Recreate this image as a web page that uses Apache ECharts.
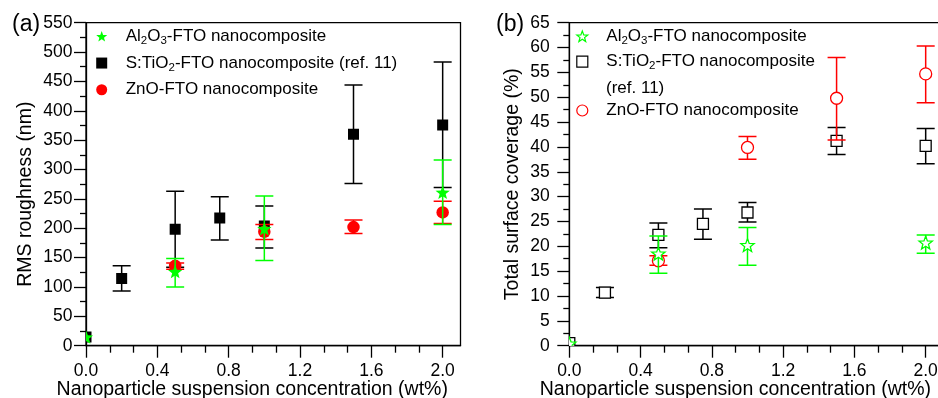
<!DOCTYPE html>
<html>
<head>
<meta charset="utf-8">
<script src="https://cdn.jsdelivr.net/npm/echarts@6/dist/echarts.min.js"></script>
<style>
  html, body { margin: 0; padding: 0; background: #fff; }
  #chart { width: 938px; height: 398px; }
</style>
</head>
<body>
<div id="chart"></div>
<script>
// Nanoparticle suspension concentration (wt%) for each material
const concAl = [0, 0.5, 1.0, 2.0];
const concTi = [0, 0.2, 0.5, 0.75, 1.0, 1.5, 2.0];
const concZn = [0.5, 1.0, 1.5, 2.0];

// (a) RMS roughness (nm): mean with lower / upper error-bar ends
const rmsAl = [13.5, 125, 198, 260];
const rmsAlLow = [13.5, 100, 145, 206.5];
const rmsAlHigh = [13.5, 148.5, 255, 316];
const rmsTi = [15, 114.5, 198.5, 217.5, 204, 360, 376];
const rmsTiLow = [15, 93, 133.5, 180, 166.5, 276, 269.5];
const rmsTiHigh = [15, 136, 263, 253.5, 238, 444, 483];
const rmsZn = [136, 194, 202, 227];
const rmsZnLow = [130, 181, 191, 208];
const rmsZnHigh = [141, 206.5, 214, 246];

// (b) Total surface coverage (%): mean with lower / upper error-bar ends
const covAl = [0.3, 18.4, 20.1, 20.6];
const covAlLow = [0.3, 14.6, 16.2, 18.6];
const covAlHigh = [0.3, 22.1, 23.8, 22.3];
const covTi = [0.5, 10.7, 22.3, 24.5, 26.8, 41.2, 40.2];
const covTiLow = [0.5, 9.7, 19.7, 21.4, 24.9, 38.5, 36.6];
const covTiHigh = [0.5, 11.7, 24.7, 27.5, 28.8, 43.9, 43.7];
const covZn = [17.1, 39.9, 49.8, 54.7];
const covZnLow = [16.2, 37.5, 41.4, 48.9];
const covZnHigh = [18.1, 42.1, 58.0, 60.3];

// Axis ticks
const xTicks = [0, 0.4, 0.8, 1.2, 1.6, 2.0];
const xMinorPerMajor = 3;

const FONT = "'Liberation Sans', Arial, Helvetica, sans-serif";
const GREEN = '#00ff00';
const RED = '#ff0000';
const BLACK = '#000000';

// minor x ticks: two between each labelled tick
const xMinorTicks = [];
for (let i = 0; i < xTicks.length - 1; i++) {
  for (let k = 1; k < xMinorPerMajor; k++) {
    xMinorTicks.push(xTicks[i] + (xTicks[i + 1] - xTicks[i]) * k / xMinorPerMajor);
  }
}

function starPoints(cx, cy, r, ratio) {
  const pts = [];
  for (let i = 0; i < 10; i++) {
    const rr = i % 2 ? r * ratio : r;
    const a = -Math.PI / 2 + i * Math.PI / 5;
    pts.push([cx + rr * Math.cos(a), cy + rr * Math.sin(a)]);
  }
  return pts;
}
const STAR_ICON = 'path://M' + starPoints(10, 10, 10, 0.42)
  .map(p => p[0].toFixed(3) + ',' + p[1].toFixed(3)).join('L') + 'Z';

function markerShape(kind, c, size, color, hollow) {
  const style = hollow ? { fill: '#fff', stroke: color, lineWidth: 1.3 } : { fill: color };
  if (kind === 'circle') {
    return { type: 'circle', shape: { cx: c[0], cy: c[1], r: size / 2 }, style };
  }
  if (kind === 'square') {
    return { type: 'rect', shape: { x: c[0] - size / 2, y: c[1] - size / 2, width: size, height: size }, style };
  }
  return { type: 'polygon', shape: { points: starPoints(c[0], c[1], size / 2, 0.42) }, style };
}

// One custom series per material: error bar with caps, then the marker on top
function errSeries(name, axisIdx, xs, mean, lo, hi, kind, size, color, hollow) {
  return {
    type: 'custom',
    name: name,
    xAxisIndex: axisIdx.x,
    yAxisIndex: axisIdx.y,
    clip: true,
    itemStyle: { color: color },
    dimensions: ['x', 'y', 'lo', 'hi'],
    encode: { x: 0, y: 1 },
    data: xs.map((x, i) => [x, mean[i], lo[i], hi[i]]),
    renderItem: function (params, api) {
      const x = api.value(0);
      const pm = api.coord([x, api.value(1)]);
      const pl = api.coord([x, api.value(2)]);
      const ph = api.coord([x, api.value(3)]);
      const cap = 9;
      const ls = { stroke: color, lineWidth: 1.5 };
      const children = [];
      if (Math.abs(pl[1] - ph[1]) > 0.5) {
        children.push(
          { type: 'line', shape: { x1: pm[0], y1: ph[1], x2: pm[0], y2: pl[1] }, style: ls },
          { type: 'line', shape: { x1: pm[0] - cap, y1: ph[1], x2: pm[0] + cap, y2: ph[1] }, style: ls },
          { type: 'line', shape: { x1: pm[0] - cap, y1: pl[1], x2: pm[0] + cap, y2: pl[1] }, style: ls }
        );
      }
      children.push(markerShape(kind, pm, size, color, hollow));
      return { type: 'group', children: children };
    }
  };
}

const legendText = {
  alA: 'Al{sub|2}O{sub|3}-FTO nanocomposite',
  tiA: 'S:TiO{sub|2}-FTO nanocomposite (ref. 11)',
  znA: 'ZnO-FTO nanocomposite',
  alB: 'Al{sub|2}O{sub|3}-FTO nanocomposite',
  tiB: 'S:TiO{sub|2}-FTO nanocomposite',
  znB: 'ZnO-FTO nanocomposite'
};

const axisLineStyle = { color: BLACK, width: 1.3 };
const labelStyle = { color: BLACK, fontSize: 17.5, fontFamily: FONT };
const nameStyle = { color: BLACK, fontSize: 19.5, fontFamily: FONT };

function xAxisMain(gridIndex) {
  return {
    gridIndex, type: 'value', min: 0, max: 2.1, position: 'bottom',
    axisLine: { show: true, onZero: false, lineStyle: axisLineStyle },
    axisTick: { show: true, length: 12, customValues: xTicks, lineStyle: axisLineStyle },
    axisLabel: { customValues: xTicks, margin: 16, formatter: v => v.toFixed(1), ...labelStyle },
    splitLine: { show: false },
    name: 'Nanoparticle suspension concentration (wt%)',
    nameLocation: 'middle', nameGap: 34, nameMoveOverlap: false,
    nameTextStyle: { ...nameStyle, padding: [0, 42, 0, 0] }
  };
}
function xAxisMinor(gridIndex) {
  return {
    gridIndex, type: 'value', min: 0, max: 2.1, position: 'bottom',
    axisLine: { show: false },
    axisTick: { show: true, length: 7, customValues: xMinorTicks, lineStyle: axisLineStyle },
    axisLabel: { show: false },
    splitLine: { show: false }
  };
}
function yAxis(gridIndex, max, interval, name, nameGap, namePad, margin) {
  return {
    gridIndex, type: 'value', min: 0, max, interval,
    axisLine: { show: true, onZero: false, lineStyle: axisLineStyle },
    axisTick: { show: true, length: 12, lineStyle: axisLineStyle },
    minorTick: { show: true, splitNumber: 2, length: 6, lineStyle: axisLineStyle },
    axisLabel: { margin, ...labelStyle },
    splitLine: { show: false },
    minorSplitLine: { show: false },
    name, nameLocation: 'middle', nameGap, nameMoveOverlap: false,
    nameTextStyle: { ...nameStyle, padding: namePad }
  };
}

const richSub = { sub: { fontSize: 11.5, padding: [9, 0, 0, 0], fontFamily: FONT, color: BLACK } };
const legendBase = {
  orient: 'vertical', itemGap: 0, padding: 0, itemWidth: 11, itemHeight: 11,
  selectedMode: false,
  formatter: n => legendText[n],
  textStyle: { color: BLACK, fontSize: 17, fontFamily: FONT, lineHeight: 26.7, padding: [0, 0, 0, 13.5], rich: richSub }
};

const A = { x: 0, y: 0 };
const B = { x: 2, y: 1 };

const gridBase = { show: true, borderColor: BLACK, borderWidth: 1.3, containLabel: false, outerBoundsMode: 'none' };

const option = {
  backgroundColor: '#fff',
  animation: false,
  grid: [
    Object.assign({ left: 86, top: 22.7, width: 374.5, height: 323 }, gridBase),
    Object.assign({ left: 569.3, top: 22.7, width: 374.2, height: 323 }, gridBase)
  ],
  xAxis: [xAxisMain(0), xAxisMinor(0), xAxisMain(1), xAxisMinor(1)],
  yAxis: [
    yAxis(0, 550, 50, 'RMS roughness (nm)', 50, [0, 20, 0, 0], 13.5),
    yAxis(1, 65, 5, 'Total surface coverage (%)', 47, [0, 0, 0, 0], 19.5)
  ],
  legend: [
    Object.assign({}, legendBase, {
      left: 96.2, top: 23,
      data: [
        { name: 'alA', icon: STAR_ICON, itemStyle: { color: GREEN, borderWidth: 0 } },
        { name: 'tiA', icon: 'rect', itemStyle: { color: BLACK, borderWidth: 0 } },
        { name: 'znA', icon: 'circle', itemStyle: { color: RED, borderWidth: 0 } }
      ]
    }),
    Object.assign({}, legendBase, {
      left: 576.2, top: 23.3,
      data: [
        { name: 'alB', icon: STAR_ICON, itemStyle: { color: '#fff', borderColor: GREEN, borderWidth: 1.2 }, textStyle: { lineHeight: 26 } },
        { name: 'tiB', icon: 'rect', itemStyle: { color: '#fff', borderColor: BLACK, borderWidth: 1.2 }, textStyle: { lineHeight: 24.8 } },
        { name: 'znB', icon: 'circle', itemStyle: { color: '#fff', borderColor: RED, borderWidth: 1.2 }, textStyle: { lineHeight: 72.8 } }
      ]
    })
  ],
  graphic: [
    { type: 'text', left: 12, top: 13, style: { text: '(a)', fill: BLACK, font: '23px ' + FONT } },
    { type: 'text', left: 496, top: 13, style: { text: '(b)', fill: BLACK, font: '23px ' + FONT } },
    { type: 'text', left: 606, top: 80, style: { text: '(ref. 11)', fill: BLACK, font: '17px ' + FONT } }
  ],
  series: [
    errSeries('tiA', A, concTi, rmsTi, rmsTiLow, rmsTiHigh, 'square', 11, BLACK, false),
    errSeries('znA', A, concZn, rmsZn, rmsZnLow, rmsZnHigh, 'circle', 12.5, RED, false),
    errSeries('alA', A, concAl, rmsAl, rmsAlLow, rmsAlHigh, 'star', 15, GREEN, false),
    errSeries('tiB', B, concTi, covTi, covTiLow, covTiHigh, 'square', 11, BLACK, true),
    errSeries('znB', B, concZn, covZn, covZnLow, covZnHigh, 'circle', 12, RED, true),
    errSeries('alB', B, concAl, covAl, covAlLow, covAlHigh, 'star', 14, GREEN, true)
  ]
};

const chart = echarts.init(document.getElementById('chart'), null, { renderer: 'canvas' });
chart.setOption(option);
</script>
</body>
</html>
